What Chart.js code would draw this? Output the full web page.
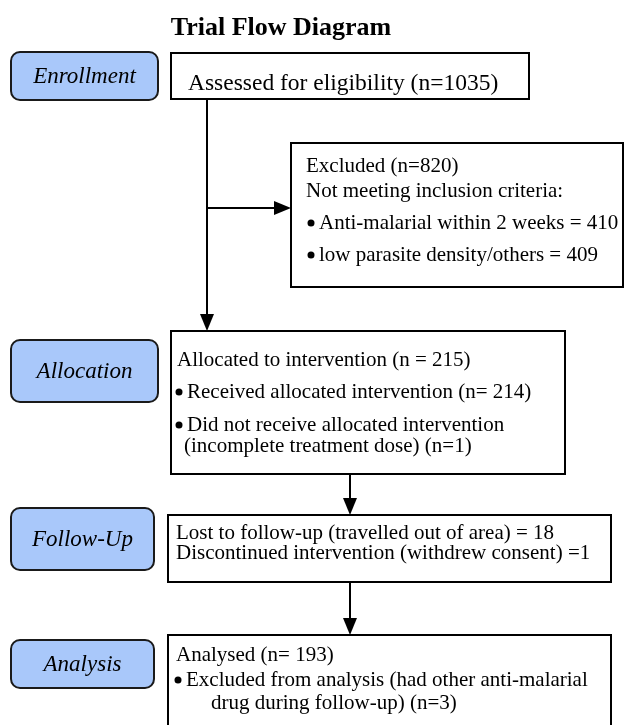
<!DOCTYPE html>
<html>
<head>
<meta charset="utf-8">
<title>Trial Flow Diagram</title>
<script src="https://cdn.jsdelivr.net/npm/chart.js@4/dist/chart.umd.min.js"></script>
<style>
  html, body { margin: 0; padding: 0; background: #fff; }
  #flujo { display: block; }
</style>
</head>
<body>
<canvas id="flujo" width="624" height="725"></canvas>
<script>
// Datos del diagrama (conteos por etapa)
const titulo = 'Trial Flow Diagram';
const etapas = ['Enrollment', 'Allocation', 'Follow-Up', 'Analysis'];
const evaluados = 1035;
const excluidos = [820, 410, 409];   // total, anti-malarial, baja densidad
const asignados = [215, 214, 1];     // asignados, recibieron, no recibieron
const seguimiento = [18, 1];         // perdidos, retiraron consentimiento
const analizados = [193, 3];         // analizados, excluidos del análisis

// Geometría del diagrama (en unidades de las escalas: 0..624 x 0..725)
const cajasEtapa = [
  [11, 52, 147, 48],
  [11, 340, 147, 62],
  [11, 508, 143, 62],
  [11, 640, 143, 48]
];
const cajas = {
  evaluados: [171, 53, 358, 46],
  excluidos: [291, 143, 332, 144],
  asignados: [171, 331, 394, 143],
  seguimiento: [168, 515, 443, 67],
  analisis: [168, 635, 443, 110]
};
// flechas: [x1, y1, x2, y2]
const flechas = [
  [207, 99, 207, 331],
  [207, 208, 291, 208],
  [350, 474, 350, 515],
  [350, 582, 350, 635]
];

// Líneas de texto: [texto, x, y, viñeta, tamaño]
const textos = [
  ['Assessed for eligibility (n=' + evaluados + ')', 188, 90, false, 23.5],
  ['Excluded (n=' + excluidos[0] + ')', 306, 172, false],
  ['Not meeting inclusion criteria:', 306, 197, false],
  ['Anti-malarial within 2 weeks = ' + excluidos[1], 319, 229, true],
  ['low parasite density/others = ' + excluidos[2], 319, 261, true],
  ['Allocated to intervention (n = ' + asignados[0] + ')', 177, 366, false],
  ['Received allocated intervention (n= ' + asignados[1] + ')', 187, 398, true],
  ['Did not receive allocated intervention', 187, 431, true],
  ['(incomplete treatment dose) (n=' + asignados[2] + ')', 184, 452, false],
  ['Lost to follow-up (travelled out of area) = ' + seguimiento[0], 176, 539, false],
  ['Discontinued intervention (withdrew consent) =' + seguimiento[1], 176, 559, false],
  ['Analysed (n= ' + analizados[0] + ')', 176, 661, false],
  ['Excluded from analysis (had other anti-malarial', 186, 686, true],
  ['drug during follow-up) (n=' + analizados[1] + ')', 211, 709, false]
];

const FUENTE = '"Liberation Serif", "Times New Roman", serif';

const pluginDiagrama = {
  id: 'diagrama',
  afterDraw(chart) {
    const ctx = chart.ctx;
    const sx = chart.scales.x, sy = chart.scales.y;
    const X = v => sx.getPixelForValue(v);
    const Y = v => sy.getPixelForValue(v);

    ctx.save();
    ctx.fillStyle = '#000';
    ctx.textBaseline = 'alphabetic';

    // título
    ctx.font = 'bold 26px ' + FUENTE;
    ctx.textAlign = 'center';
    ctx.fillText(titulo, X(281), Y(35));

    // cajas de etapa (azules, redondeadas)
    cajasEtapa.forEach((c, i) => {
      const x = X(c[0]), y = Y(c[1]), w = X(c[0] + c[2]) - x, h = Y(c[1] + c[3]) - y;
      ctx.beginPath();
      ctx.roundRect(x, y, w, h, 9);
      ctx.fillStyle = '#a9c8fa';
      ctx.fill();
      ctx.lineWidth = 2;
      ctx.strokeStyle = '#1a1a1a';
      ctx.stroke();
      ctx.fillStyle = '#000';
      ctx.font = 'italic 23px ' + FUENTE;
      ctx.textAlign = 'center';
      ctx.fillText(etapas[i], x + w / 2, y + h / 2 + 7);
    });

    // cajas principales
    ctx.lineWidth = 2;
    ctx.strokeStyle = '#000';
    Object.values(cajas).forEach(c => {
      const x = X(c[0]), y = Y(c[1]), w = X(c[0] + c[2]) - x, h = Y(c[1] + c[3]) - y;
      ctx.fillStyle = '#fff';
      ctx.fillRect(x, y, w, h);
      ctx.strokeRect(x, y, w, h);
    });

    // flechas
    ctx.fillStyle = '#000';
    flechas.forEach(f => {
      const x1 = X(f[0]), y1 = Y(f[1]), x2 = X(f[2]), y2 = Y(f[3]);
      const ang = Math.atan2(y2 - y1, x2 - x1);
      const largo = 17, ancho = 7;
      const bx = x2 - largo * Math.cos(ang), by = y2 - largo * Math.sin(ang);
      ctx.beginPath();
      ctx.moveTo(x1, y1);
      ctx.lineTo(bx, by);
      ctx.stroke();
      ctx.beginPath();
      ctx.moveTo(x2, y2);
      ctx.lineTo(bx + ancho * Math.sin(ang), by - ancho * Math.cos(ang));
      ctx.lineTo(bx - ancho * Math.sin(ang), by + ancho * Math.cos(ang));
      ctx.closePath();
      ctx.fill();
    });

    // textos
    ctx.textAlign = 'left';
    textos.forEach(t => {
      ctx.font = (t[4] || 21) + 'px ' + FUENTE;
      const x = X(t[1]), y = Y(t[2]);
      ctx.fillText(t[0], x, y);
      if (t[3]) {
        ctx.beginPath();
        ctx.arc(x - 8, y - 6, 3.5, 0, Math.PI * 2);
        ctx.fill();
      }
    });
    ctx.restore();
  }
};

new Chart(document.getElementById('flujo'), {
  type: 'scatter',
  data: { datasets: [{ data: [] }] },
  options: {
    responsive: false,
    animation: false,
    events: [],
    layout: { padding: 0 },
    plugins: { legend: { display: false }, tooltip: { enabled: false } },
    scales: {
      x: { type: 'linear', min: 0, max: 624, display: false },
      y: { type: 'linear', min: 0, max: 725, reverse: true, display: false }
    }
  },
  plugins: [pluginDiagrama]
});
</script>
</body>
</html>
